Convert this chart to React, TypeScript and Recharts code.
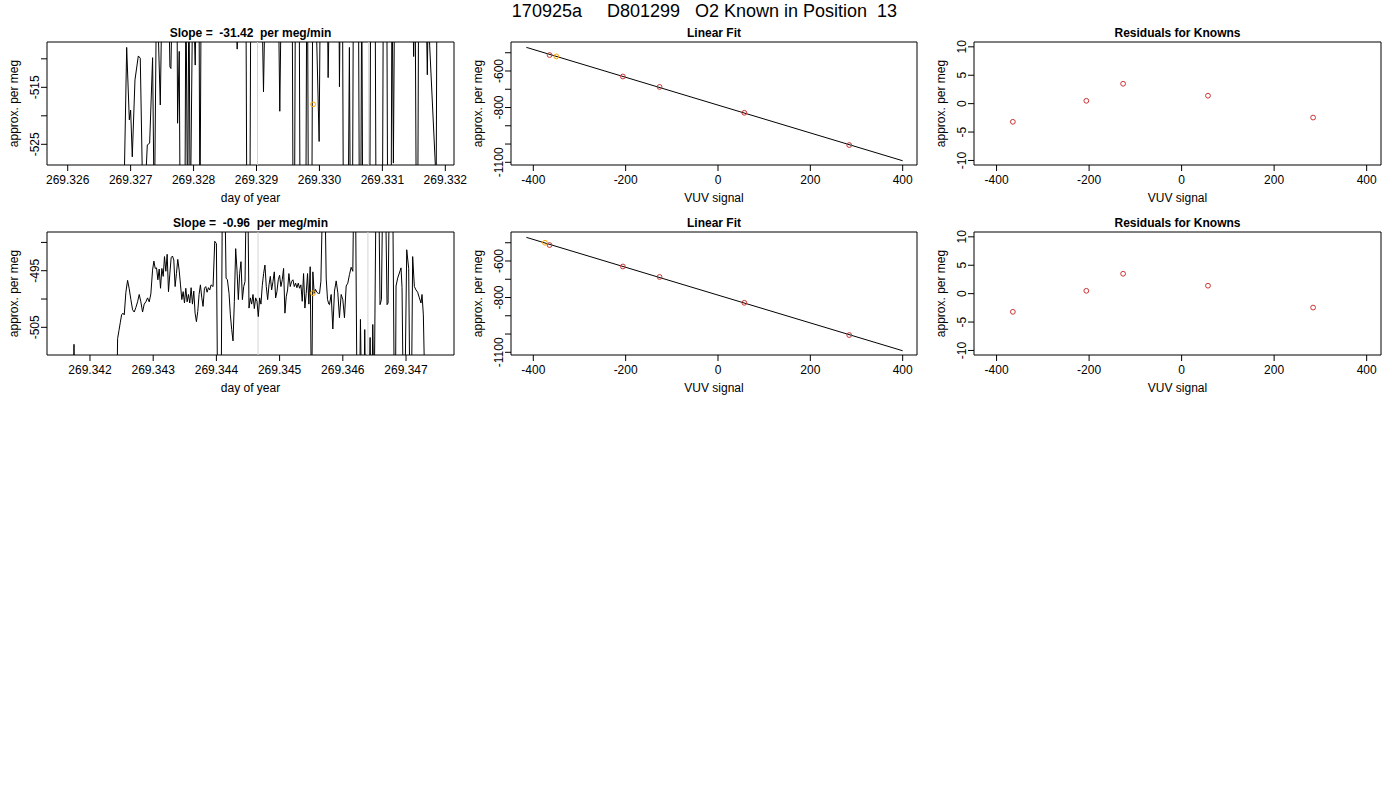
import React from 'react';
import { ComposedChart, Line, XAxis, YAxis, ReferenceLine, ReferenceArea } from 'recharts';

const FONT = '"Liberation Sans", Arial, Helvetica, sans-serif';
const RED = '#CD3333';
const ORANGE = '#FFA500';
const GREY = '#d3d3d3';

// ---------- Run 1 (top row): time series ----------
const topDay = [
  269.326884, 269.326937, 269.326979, 269.327000, 269.327026, 269.327069, 269.327122, 269.327153,
  269.327201, 269.327265, 269.327302, 269.327349, 269.327376, 269.327413, 269.327471, 269.327503,
  269.327598, 269.327624, 269.327640, 269.327667, 269.327735, 269.327746, 269.327772, 269.327788,
  269.327862, 269.327878, 269.327905, 269.327926, 269.327947, 269.327989, 269.328026, 269.328048,
  269.328085, 269.328101, 269.328122, 269.328656, 269.328693, 269.328725, 269.328831, 269.328847,
  269.328894, 269.328910, 269.329079, 269.329111, 269.329143, 269.329344, 269.329370, 269.329397,
  269.329566, 269.329582, 269.329603, 269.329619, 269.329677, 269.329693, 269.329783, 269.329799,
  269.329810, 269.329825, 269.329878, 269.329894, 269.329931, 269.329995, 269.330016, 269.330122,
  269.330138, 269.330164, 269.330307, 269.330318, 269.330333, 269.330365, 269.330381, 269.330455,
  269.330476, 269.330492, 269.330524, 269.330540, 269.330619, 269.330635, 269.330656, 269.330672,
  269.330688, 269.330799, 269.330815, 269.330884, 269.330900, 269.331000, 269.331016, 269.331069,
  269.331085, 269.331138, 269.331153, 269.331175, 269.331196, 269.331476, 269.331497, 269.331519,
  269.331540, 269.331561, 269.331577, 269.331688, 269.331714, 269.331735, 269.331751, 269.331841,
  269.331852, 269.331868, 269.332016,
];
const topPerMeg = [
  -540, -508.0, -520.7, -519.0, -527.2, -513.7, -509.5, -509.9,
  -540, -525.1, -524.8, -509.8, -540, -495, -518.1, -495,
  -495, -511.4, -511.7, -495, -495, -521.3, -508.7, -540,
  -540, -495, -540, -495, -540, -495, -511.1, -495,
  -495, -540, -495, -495, -508.3, -495, -495, -540,
  -540, -495, -495, -515.8, -495, -495, -519.2, -495,
  -495, -540, -540, -495, -495, -540, -540, -495,
  -495, -540, -540, -495, -495, -524.5, -495, -495,
  -513.3, -495, -495, -514.9, -495, -495, -540, -540,
  -508.0, -540, -540, -495, -495, -540, -540, -495,
  -540, -540, -495, -495, -540, -540, -495, -495,
  -540, -540, -495, -528.3, -495, -495, -509.6, -495,
  -540, -540, -495, -495, -512.8, -495, -507.6, -528.5,
  -540, -495, -495,
];
const topSampleDay = [269.329899];
const topSamplePerMeg = [-517.99];
const topMarkerDays = [269.329016, 269.330783];

// ---------- Run 2 (bottom row): time series ----------
const botDay = [
  269.341711, 269.341737, 269.341747, 269.341758, 269.342421, 269.342437, 269.342458, 269.342479,
  269.342500, 269.342521, 269.342542, 269.342568, 269.342595, 269.342621, 269.342647, 269.342674,
  269.342700, 269.342726, 269.342753, 269.342779, 269.342805, 269.342832, 269.342858, 269.342884,
  269.342911, 269.342937, 269.342963, 269.342990, 269.343011, 269.343032, 269.343053, 269.343074,
  269.343095, 269.343116, 269.343137, 269.343158, 269.343179, 269.343200, 269.343221, 269.343242,
  269.343263, 269.343284, 269.343305, 269.343326, 269.343347, 269.343368, 269.343389, 269.343411,
  269.343432, 269.343453, 269.343474, 269.343495, 269.343516, 269.343537, 269.343558, 269.343579,
  269.343600, 269.343621, 269.343642, 269.343663, 269.343684, 269.343705, 269.343726, 269.343747,
  269.343768, 269.343789, 269.343811, 269.343832, 269.343853, 269.343874, 269.343895, 269.343916,
  269.343947, 269.343974, 269.344000, 269.344021, 269.344074, 269.344095, 269.344132, 269.344153,
  269.344174, 269.344200, 269.344221, 269.344242, 269.344263, 269.344284, 269.344305, 269.344326,
  269.344347, 269.344368, 269.344389, 269.344411, 269.344432, 269.344453, 269.344474, 269.344495,
  269.344516, 269.344537, 269.344558, 269.344579, 269.344600, 269.344621, 269.344642, 269.344663,
  269.344684, 269.344705, 269.344726, 269.344747, 269.344768, 269.344789, 269.344811, 269.344832,
  269.344853, 269.344874, 269.344895, 269.344916, 269.344937, 269.344958, 269.344979, 269.345000,
  269.345021, 269.345042, 269.345063, 269.345084, 269.345105, 269.345126, 269.345147, 269.345168,
  269.345189, 269.345211, 269.345232, 269.345253, 269.345274, 269.345295, 269.345316, 269.345337,
  269.345358, 269.345379, 269.345400, 269.345421, 269.345442, 269.345463, 269.345484, 269.345505,
  269.345526, 269.345547, 269.345568, 269.345589, 269.345611, 269.345632, 269.345653, 269.345684,
  269.345716, 269.345737, 269.345758, 269.345779, 269.345789, 269.345816, 269.345842, 269.345868,
  269.345895, 269.345921, 269.345947, 269.345974, 269.346000, 269.346026, 269.346053, 269.346079,
  269.346105, 269.346132, 269.346158, 269.346174, 269.346200, 269.346226, 269.346263, 269.346279,
  269.346300, 269.346332, 269.346347, 269.346363, 269.346411, 269.346432, 269.346447, 269.346458,
  269.346474, 269.346495, 269.346526, 269.346568, 269.346589, 269.346611, 269.346632, 269.346674,
  269.346700, 269.346716, 269.346737, 269.346789, 269.346816, 269.346832, 269.346842, 269.346868,
  269.346895, 269.346921, 269.346937, 269.346958, 269.346979, 269.347011, 269.347042, 269.347063,
  269.347084, 269.347105, 269.347132, 269.347158, 269.347184, 269.347211, 269.347237, 269.347253,
  269.347274, 269.347305,
];
const botPerMeg = [
  -520, -520, -508.0, -520, -520, -507.0, -505.6, -504.2,
  -502.8, -502.5, -502.8, -498.8, -496.7, -498.2, -500.1, -501.9,
  -502.3, -501.5, -500.5, -499.2, -500.5, -502.3, -500.9, -500.5,
  -499.8, -500.5, -499.1, -494.9, -493.3, -494.6, -494.5, -496.6,
  -494.7, -498.1, -494.6, -496.0, -492.5, -495.1, -492.1, -498.7,
  -495.6, -492.7, -492.4, -493.1, -497.8, -495.5, -493.0, -494.9,
  -497.5, -500.1, -498.7, -500.7, -498.1, -500.5, -499.2, -500.7,
  -498.0, -500.9, -498.6, -502.5, -504.0, -502.2, -499.2, -497.5,
  -499.7, -501.3, -498.1, -497.8, -498.8, -498.0, -498.4, -497.5,
  -497.8, -489.8, -490.2, -520, -520, -480, -480, -496.3,
  -496.6, -499.0, -502.8, -505.4, -507.4, -500.4, -491.1, -494.9,
  -500.1, -495.5, -493.4, -500.1, -497.8, -496.9, -480, -480,
  -501.6, -499.8, -500.9, -499.2, -501.7, -499.8, -500.4, -503.1,
  -499.8, -500.9, -497.6, -495.5, -494.0, -497.8, -500.1, -497.5,
  -496.0, -498.4, -496.9, -495.2, -499.8, -498.7, -496.6, -495.8,
  -497.8, -496.6, -494.6, -502.5, -499.6, -498.4, -495.5, -497.8,
  -496.9, -496.6, -497.8, -497.2, -498.0, -497.2, -498.1, -497.5,
  -500.4, -495.5, -501.6, -499.0, -495.5, -500.9, -494.3, -520,
  -495.2, -499.0, -498.3, -498.8, -499.0, -499.0, -496.9, -480,
  -480, -496.3, -500.1, -500.9, -501.0, -499.2, -505.3, -498.6,
  -496.8, -498.9, -503.3, -499.2, -500.1, -503.3, -497.7, -497.2,
  -495.7, -494.4, -495.1, -480, -480, -520, -520, -503.6,
  -520, -520, -505.4, -520, -520, -506.8, -520, -520,
  -504.5, -520, -480, -480, -501.0, -500.1, -480, -480,
  -501.0, -500.7, -480, -480, -520, -520, -497.7, -496.3,
  -495.4, -494.5, -498.0, -520, -520, -491.3, -494.6, -520,
  -520, -492.5, -497.8, -498.4, -498.8, -499.8, -500.7, -499.2,
  -502.8, -520,
];
const botSampleDay = [269.345528];
const botSamplePerMeg = [-498.97];
const botMarkerDays = [269.344659, 269.346397];

// ---------- Calibration: knowns, fit, residuals ----------
const knownVuv = [-364.8, -206.0, -126.5, 57.0, 284.2];
const knownPerMeg = [-512.7, -630.1, -687.3, -828.9, -1005.6];
const knownResidual = [-3.2, 0.5, 3.5, 1.4, -2.45];
const fitVuv = [-415, 400];
const fitPerMeg = [-470.6, -1091.6];
const topUnknownVuv = [-350.2];
const topUnknownPerMeg = [-520.0];
const botUnknownVuv = [-374.7];
const botUnknownPerMeg = [-500.0];

// ---------- Ticks ----------
const topDayTicks = [269.326, 269.327, 269.328, 269.329, 269.33, 269.331, 269.332];
const botDayTicks = [269.342, 269.343, 269.344, 269.345, 269.346, 269.347];
const topPerMegTicks = [-525, -520, -515, -510];
const topPerMegLabels = [-525, -515];
const botPerMegTicks = [-505, -500, -495, -490];
const botPerMegLabels = [-505, -495];
const vuvTicks = [-400, -200, 0, 200, 400];
const fitTicks = [-1100, -1000, -900, -800, -700, -600, -500];
const fitLabels = [-1100, -800, -600];
const residTicks = [-10, -5, 0, 5, 10];

const rows = (xs: number[], ys: number[]) => xs.map((x, i) => ({ x, y: ys[i] }));

const makeXTick = (fmt: (v: number) => string) => (p: any) => (
  <text x={p.x} y={p.y + 12.5} textAnchor="middle" fontSize={12} fontFamily={FONT} fill="#000">
    {fmt(p.payload.value)}
  </text>
);

const makeYTick = (labeled: number[]) => (p: any) => {
  const v = p.payload.value;
  if (!labeled.includes(v)) return <g />;
  const bx = p.x - 1.5;
  return (
    <text x={bx} y={p.y} transform={`rotate(-90 ${bx} ${p.y})`} textAnchor="middle" fontSize={12} fontFamily={FONT} fill="#000">
      {String(v)}
    </text>
  );
};

type FrameProps = {
  left: number;
  top: number;
  right?: number;
  xDomain: [number, number];
  yDomain: [number, number];
  xTicks: number[];
  yTicks: number[];
  xFmt: (v: number) => string;
  yLabeled: number[];
  children?: React.ReactNode;
};

function Frame({ left, top, right = 16, xDomain, yDomain, xTicks, yTicks, xFmt, yLabeled, children }: FrameProps) {
  return (
    <div style={{ position: 'absolute', left, top, width: 470, height: 210 }}>
      <ComposedChart width={470} height={210} margin={{ top: 42, right, bottom: 0, left: 0 }}>
        <XAxis
          type="number"
          dataKey="x"
          domain={xDomain}
          allowDataOverflow
          ticks={xTicks}
          interval={0}
          height={45}
          tickSize={6}
          tickMargin={0}
          axisLine={false}
          stroke="#000"
          tickLine={{ stroke: '#000' }}
          tick={makeXTick(xFmt)}
        />
        <YAxis
          type="number"
          dataKey="y"
          domain={yDomain}
          allowDataOverflow
          ticks={yTicks}
          interval={0}
          width={47}
          tickSize={6}
          tickMargin={0}
          axisLine={false}
          stroke="#000"
          tickLine={{ stroke: '#000' }}
          tick={makeYTick(yLabeled)}
        />
        <ReferenceArea
          x1={xDomain[0]}
          x2={xDomain[1]}
          y1={yDomain[0]}
          y2={yDomain[1]}
          fill="none"
          stroke="#000"
          strokeWidth={1}
          ifOverflow="visible"
        />
        {children}
      </ComposedChart>
    </div>
  );
}

const dayFmt = (v: number) => v.toFixed(3);
const intFmt = (v: number) => String(v);

const openDot = (color: string) => ({ r: 2.4, fill: 'none', stroke: color, strokeWidth: 1 });

function TimePanel({ top, days, vals, sDay, sVal, markers, xDomain, yDomain, xTicks, yTicks, yLabels }: any) {
  return (
    <Frame left={0} top={top} xDomain={xDomain} yDomain={yDomain} xTicks={xTicks} yTicks={yTicks} xFmt={dayFmt} yLabeled={yLabels}>
      {markers.map((d: number) => (
        <ReferenceLine key={d} x={d} stroke={GREY} strokeWidth={1} />
      ))}
      <Line data={rows(days, vals)} dataKey="y" stroke="#000" strokeWidth={1} dot={false} isAnimationActive={false} />
      <Line data={rows(sDay, sVal)} dataKey="y" stroke="none" dot={openDot(ORANGE)} isAnimationActive={false} />
    </Frame>
  );
}

function FitPanel({ top, uVuv, uPerMeg }: any) {
  return (
    <Frame left={464} top={top} right={17} xDomain={[-448.3, 431]} yDomain={[-1114.8, -441.2]} xTicks={vuvTicks} yTicks={fitTicks} xFmt={intFmt} yLabeled={fitLabels}>
      <Line data={rows(fitVuv, fitPerMeg)} dataKey="y" stroke="#000" strokeWidth={1} dot={false} isAnimationActive={false} />
      <Line data={rows(knownVuv, knownPerMeg)} dataKey="y" stroke="none" dot={openDot(RED)} isAnimationActive={false} />
      <Line data={rows(uVuv, uPerMeg)} dataKey="y" stroke="none" dot={openDot(ORANGE)} isAnimationActive={false} />
    </Frame>
  );
}

function ResidPanel({ top }: any) {
  return (
    <Frame left={927} top={top} xDomain={[-448.8, 431]} yDomain={[-10.8, 10.85]} xTicks={vuvTicks} yTicks={residTicks} xFmt={intFmt} yLabeled={residTicks}>
      <Line data={rows(knownVuv, knownResidual)} dataKey="y" stroke="none" dot={openDot(RED)} isAnimationActive={false} />
    </Frame>
  );
}

const txt = { fontFamily: FONT, fill: '#000', whiteSpace: 'pre' as const };

function Labels() {
  const rowsY = [0, 190];
  const panels = [
    { cx: 250.5, yl: 18 },
    { cx: 714, yl: 482 },
    { cx: 1177.5, yl: 945 },
  ];
  const titles = [
    ['Slope =  -31.42  per meg/min', 'Linear Fit', 'Residuals for Knowns'],
    ['Slope =  -0.96  per meg/min', 'Linear Fit', 'Residuals for Knowns'],
  ];
  const xTitles = ['day of year', 'VUV signal', 'VUV signal'];
  return (
    <svg width={1400} height={800} style={{ position: 'absolute', left: 0, top: 0, pointerEvents: 'none' }}>
      <text x={704.5} y={17.3} textAnchor="middle" fontSize={18} style={txt}>
        {'170925a     D801299   O2 Known in Position  13'}
      </text>
      {rowsY.map((oy, r) =>
        panels.map((p, c) => (
          <g key={`${r}-${c}`}>
            <text x={p.cx} y={oy + 37} textAnchor="middle" fontSize={12} fontWeight="bold" style={txt}>
              {titles[r][c]}
            </text>
            <text x={p.cx} y={oy + 202} textAnchor="middle" fontSize={12} style={txt}>
              {xTitles[c]}
            </text>
            <text
              x={p.yl}
              y={oy + 103.5}
              transform={`rotate(-90 ${p.yl} ${oy + 103.5})`}
              textAnchor="middle"
              fontSize={12}
              style={txt}
            >
              {'approx. per meg'}
            </text>
          </g>
        ))
      )}
    </svg>
  );
}

export default function App() {
  return (
    <div style={{ position: 'absolute', left: 0, top: 0, width: 1400, height: 800, background: '#fff', overflow: 'hidden' }}>
      <TimePanel
        top={0}
        days={topDay}
        vals={topPerMeg}
        sDay={topSampleDay}
        sVal={topSamplePerMeg}
        markers={topMarkerDays}
        xDomain={[269.325671, 269.332138]}
        yDomain={[-528.63, -507.05]}
        xTicks={topDayTicks}
        yTicks={topPerMegTicks}
        yLabels={topPerMegLabels}
      />
      <FitPanel top={0} uVuv={topUnknownVuv} uPerMeg={topUnknownPerMeg} />
      <ResidPanel top={0} />
      <TimePanel
        top={190}
        days={botDay}
        vals={botPerMeg}
        sDay={botSampleDay}
        sVal={botSamplePerMeg}
        markers={botMarkerDays}
        xDomain={[269.34132, 269.347759]}
        yDomain={[-509.89, -488.16]}
        xTicks={botDayTicks}
        yTicks={botPerMegTicks}
        yLabels={botPerMegLabels}
      />
      <FitPanel top={190} uVuv={botUnknownVuv} uPerMeg={botUnknownPerMeg} />
      <ResidPanel top={190} />
      <Labels />
    </div>
  );
}
